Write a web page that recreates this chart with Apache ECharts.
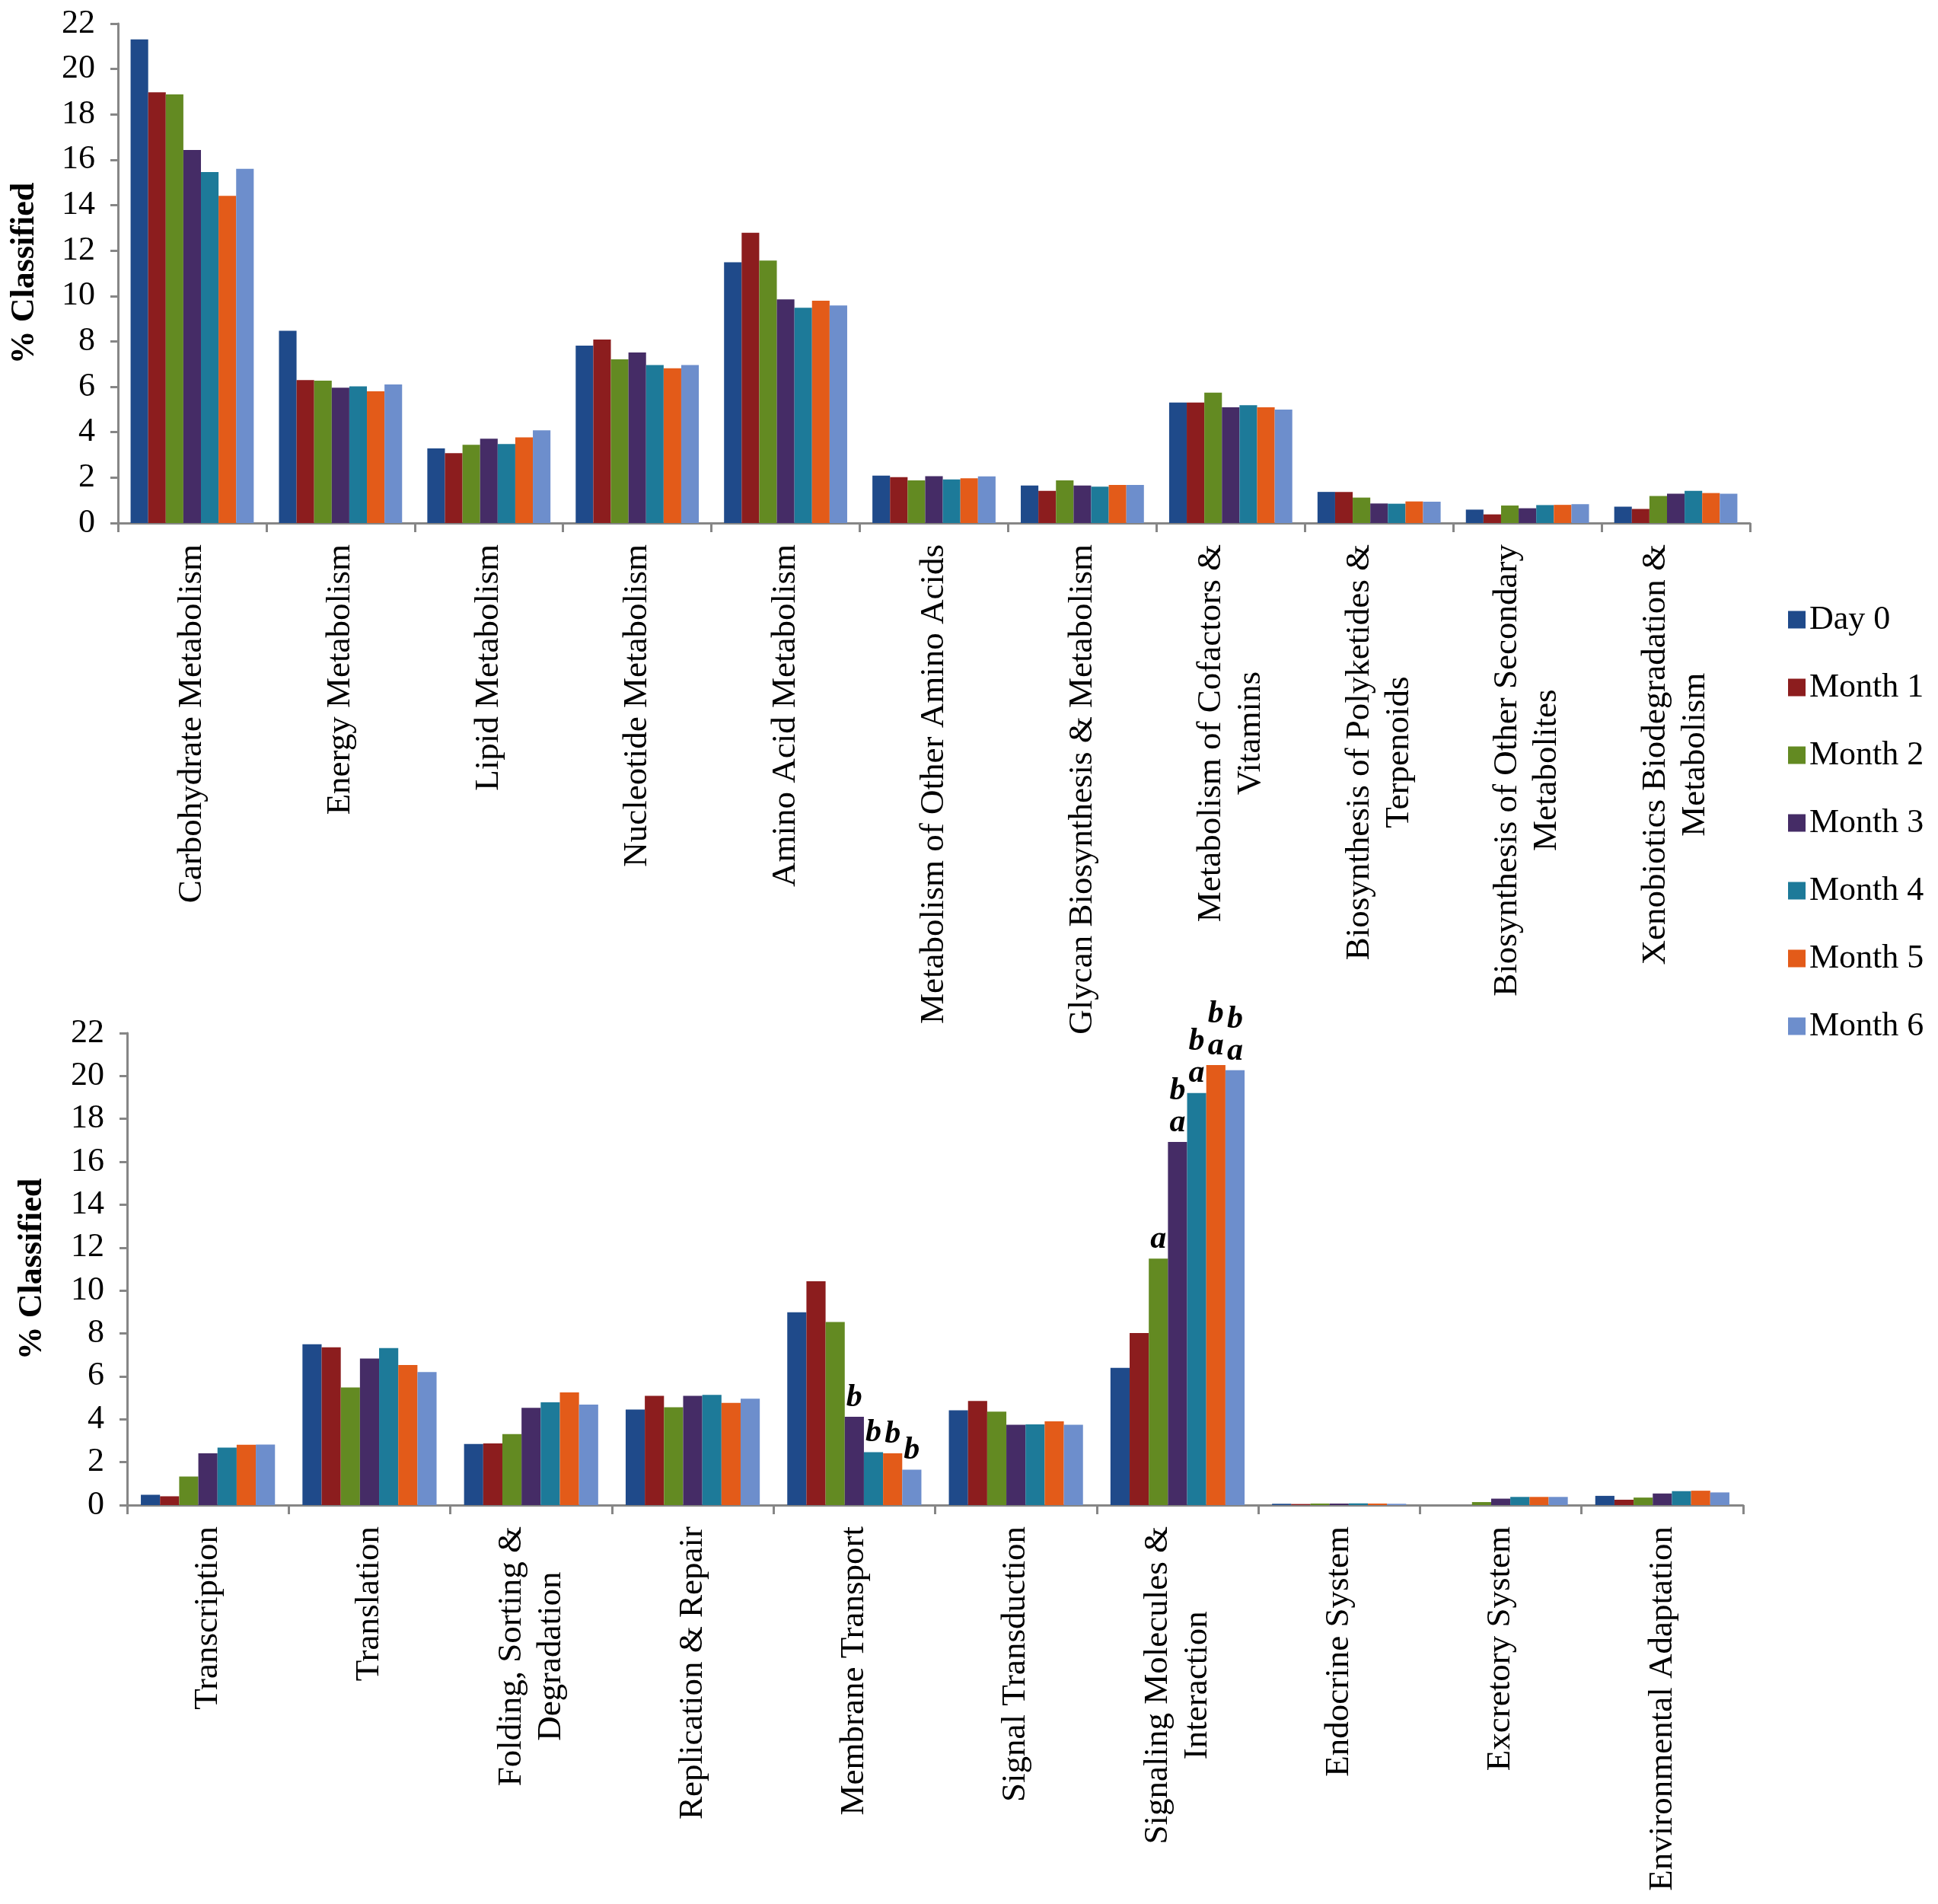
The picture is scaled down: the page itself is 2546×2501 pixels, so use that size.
<!DOCTYPE html>
<html>
<head>
<meta charset="utf-8">
<title>% Classified by functional category</title>
<script src="https://cdn.jsdelivr.net/npm/echarts@6/dist/echarts.min.js"></script>
<style>
    html, body { margin: 0; padding: 0; background: #fff; }
    #chart { width: 2546px; height: 2501px; }
</style>
</head>
<body>
<div id="chart"></div>
<script>
// Categories
const metabolismCategories = [
    'Carbohydrate Metabolism', 'Energy Metabolism', 'Lipid Metabolism', 'Nucleotide Metabolism',
    'Amino Acid Metabolism', 'Metabolism of Other Amino Acids', 'Glycan Biosynthesis & Metabolism',
    'Metabolism of Cofactors &\nVitamins', 'Biosynthesis of Polyketides &\nTerpenoids',
    'Biosynthesis of Other Secondary\nMetabolites', 'Xenobiotics Biodegradation &\nMetabolism'
];
const cellularCategories = [
    'Transcription', 'Translation', 'Folding, Sorting &\nDegradation', 'Replication & Repair',
    'Membrane Transport', 'Signal Transduction', 'Signaling Molecules &\nInteraction',
    'Endocrine System', 'Excretory System', 'Environmental Adaptation'
];

const seriesNames = ['Day 0', 'Month 1', 'Month 2', 'Month 3', 'Month 4', 'Month 5', 'Month 6'];
const seriesColors = ['#1f4a8a', '#8c1d1e', '#638a22', '#452c66', '#1d7a99', '#e35b19', '#6d8ecc'];

const yTicks = [0, 22, 2]; // min, max, interval

// Top panel values (% classified)
const day0Metab   = [21.30, 8.47, 3.29, 7.81, 11.49, 2.09, 1.65, 5.31, 1.37, 0.59, 0.72];
const month1Metab = [18.97, 6.30, 3.08, 8.08, 12.79, 2.02, 1.42, 5.31, 1.37, 0.38, 0.62];
const month2Metab = [18.88, 6.27, 3.45, 7.21, 11.56, 1.88, 1.88, 5.74, 1.12, 0.77, 1.19];
const month3Metab = [16.43, 5.96, 3.71, 7.51, 9.85, 2.06, 1.65, 5.10, 0.86, 0.65, 1.29];
const month4Metab = [15.46, 6.02, 3.48, 6.96, 9.48, 1.92, 1.60, 5.19, 0.85, 0.79, 1.42];
const month5Metab = [14.41, 5.80, 3.77, 6.82, 9.79, 1.97, 1.68, 5.10, 0.95, 0.80, 1.32];
const month6Metab = [15.60, 6.10, 4.08, 6.96, 9.58, 2.05, 1.68, 5.00, 0.94, 0.83, 1.29];

// Bottom panel values (% classified)
const day0Cell   = [0.48, 7.50, 2.85, 4.45, 8.99, 4.42, 6.40, 0.06, 0.00, 0.43];
const month1Cell = [0.41, 7.35, 2.87, 5.09, 10.43, 4.85, 8.02, 0.05, 0.00, 0.25];
const month2Cell = [1.33, 5.48, 3.31, 4.56, 8.53, 4.36, 11.49, 0.07, 0.14, 0.35];
const month3Cell = [2.41, 6.83, 4.53, 5.09, 4.12, 3.74, 16.93, 0.07, 0.30, 0.54];
const month4Cell = [2.68, 7.32, 4.79, 5.14, 2.47, 3.76, 19.21, 0.08, 0.38, 0.65];
const month5Cell = [2.81, 6.53, 5.25, 4.76, 2.41, 3.90, 20.51, 0.07, 0.38, 0.67];
const month6Cell = [2.82, 6.20, 4.68, 4.96, 1.65, 3.74, 20.27, 0.06, 0.38, 0.59];

// significance letters above bottom-panel bars
const noLetters     = ['', '', '', '', '', '', '', '', '', ''];
const month2Letters = ['', '', '', '', '', '', 'a', '', '', ''];
const laterLetters  = ['', '', '', '', 'b', '', 'b\na', '', '', ''];

const metabValues = [day0Metab, month1Metab, month2Metab, month3Metab, month4Metab, month5Metab, month6Metab];
const cellValues = [day0Cell, month1Cell, month2Cell, month3Cell, month4Cell, month5Cell, month6Cell];
const cellLetters = [noLetters, noLetters, month2Letters, laterLetters, laterLetters, laterLetters, laterLetters];

const serif = '"Liberation Serif", "Times New Roman", serif';

function centeredLines(value) {
    // keep lines of a two-line label centred on each other
    return value.split('\n').map(line => '{c|' + line + '}').join('\n');
}

function initChart() {
    const chartDom = document.getElementById('chart');
    const myChart = echarts.init(chartDom, null, { renderer: 'canvas' });

    const axisLineStyle = { color: '#868686', width: 3 };

    const xAxisCommon = {
        type: 'category',
        axisLine: { lineStyle: axisLineStyle },
        axisTick: { show: true, length: 12, lineStyle: axisLineStyle },
        axisLabel: {
            interval: 0,
            rotate: 90,
            margin: 28,
            fontFamily: serif,
            fontSize: 45,
            color: '#000',
            formatter: centeredLines,
            rich: {
                c: { fontFamily: serif, fontSize: 45, color: '#000', align: 'center', lineHeight: 52 }
            }
        }
    };

    const yAxisCommon = {
        type: 'value',
        min: yTicks[0],
        max: yTicks[1],
        interval: yTicks[2],
        name: '% Classified',
        nameLocation: 'middle',
        nameRotate: 90,
        nameTextStyle: { fontFamily: serif, fontSize: 44, fontWeight: 'bold', color: '#000' },
        axisLine: { show: true, lineStyle: axisLineStyle },
        axisTick: { show: true, length: 10, lineStyle: axisLineStyle },
        axisLabel: { fontFamily: serif, fontSize: 44, color: '#000', margin: 30 },
        splitLine: { show: false }
    };

    const series = [];
    seriesNames.forEach((name, i) => {
        series.push({
            name: name,
            type: 'bar',
            xAxisIndex: 0,
            yAxisIndex: 0,
            data: metabValues[i],
            itemStyle: { color: seriesColors[i] },
            barGap: '0%',
            barCategoryGap: '17%'
        });
    });
    seriesNames.forEach((name, i) => {
        series.push({
            name: name,
            type: 'bar',
            xAxisIndex: 1,
            yAxisIndex: 1,
            data: cellValues[i],
            itemStyle: { color: seriesColors[i] },
            barGap: '0%',
            barCategoryGap: '17%',
            label: {
                show: true,
                position: 'top',
                distance: 4,
                formatter: p => cellLetters[i][p.dataIndex],
                fontFamily: serif,
                fontSize: 42,
                fontWeight: 'bold',
                fontStyle: 'italic',
                lineHeight: 42,
                color: '#000'
            }
        });
    });

    const option = {
        backgroundColor: '#fff',
        animation: false,
        textStyle: { fontFamily: serif },
        legend: {
            data: seriesNames,
            orient: 'vertical',
            left: 2344,
            top: 787,
            itemGap: 45,
            itemWidth: 23,
            itemHeight: 23,
            icon: 'rect',
            textStyle: { fontFamily: serif, fontSize: 44, color: '#000' }
        },
        grid: [
            { left: 155, right: 247, top: 31, bottom: 1814 },
            { left: 167, right: 256, top: 1357, bottom: 524 }
        ],
        xAxis: [
            Object.assign({}, xAxisCommon, { gridIndex: 0, data: metabolismCategories }),
            Object.assign({}, xAxisCommon, { gridIndex: 1, data: cellularCategories })
        ],
        yAxis: [
            Object.assign({}, yAxisCommon, { gridIndex: 0, nameGap: 100 }),
            Object.assign({}, yAxisCommon, { gridIndex: 1, nameGap: 102 })
        ],
        series: series
    };

    myChart.setOption(option);
    return myChart;
}

initChart();
</script>
</body>
</html>
